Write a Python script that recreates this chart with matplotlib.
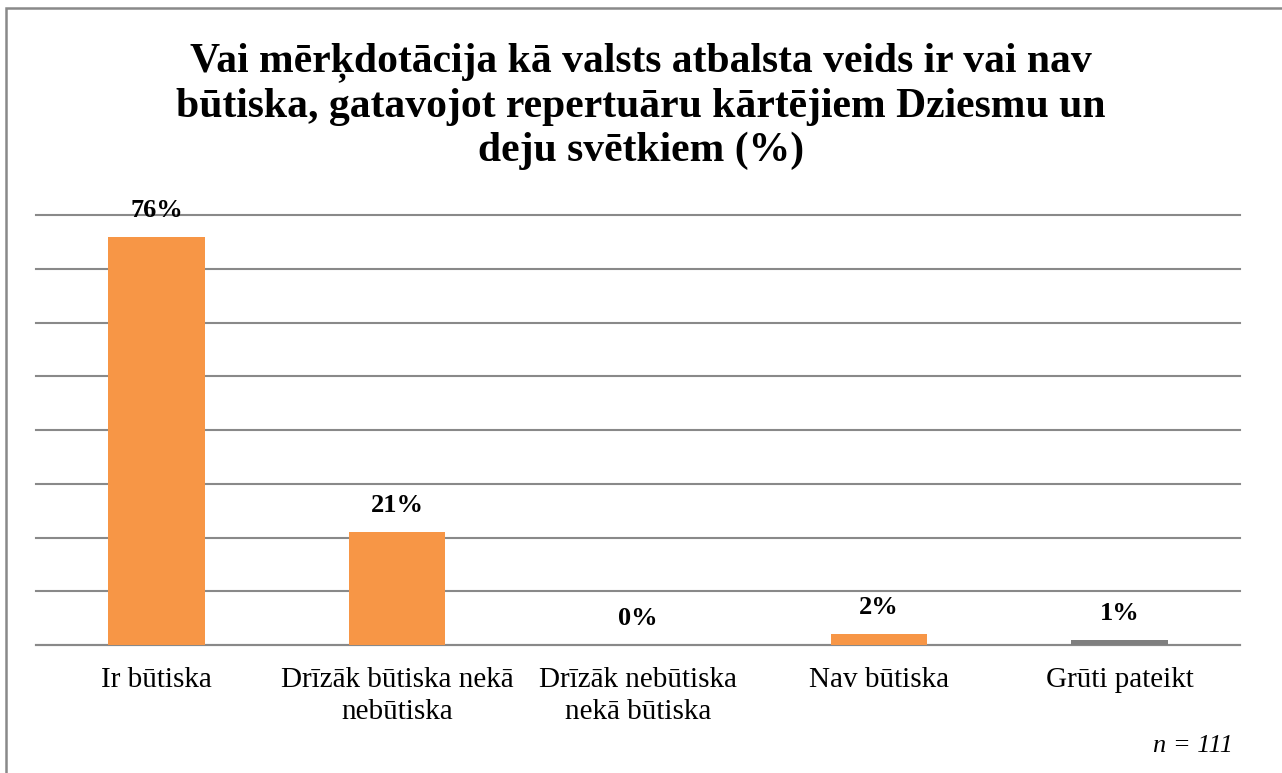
import numpy as np
import matplotlib.pyplot as plt
from matplotlib.patches import Rectangle

categories = ["Ir būtiska", "Drīzāk būtiska nekā\nnebūtiska", "Drīzāk nebūtiska\nnekā būtiska",
              "Nav būtiska", "Grūti pateikt"]
values = [76, 21, 0, 2, 1]
colors = ["#F79646", "#F79646", "#F79646", "#F79646", "#7F7F7F"]
title = "Vai mērķdotācija kā valsts atbalsta veids ir vai nav\nbūtiska, gatavojot repertuāru kārtējiem Dziesmu un\ndeju svētkiem (%)"

plt.rcParams['font.family'] = ['Liberation Serif', 'DejaVu Serif']

fig = plt.figure(figsize=(12.82, 7.73), dpi=100)
# frame: only left and top edges show, the rest is cropped off
fig.patches.append(Rectangle((6 / 1282, -0.05), 1.1, 1 - 8 / 773 + 0.05,
                             transform=fig.transFigure, fill=False,
                             edgecolor="#898989", linewidth=1.8))

ax = fig.add_axes([36 / 1282, 1 - 645 / 773, (1240 - 36) / 1282, (645 - 215) / 773])
x = np.arange(len(categories))
ax.bar(x, values, width=0.4, color=colors, zorder=3)
ax.set_xlim(-0.5, len(categories) - 0.5)
ax.set_ylim(0, 80)
ax.set_yticks(np.arange(0, 81, 10))
ax.yaxis.grid(True, color="#898989", linewidth=1.5, zorder=0)
for gl in ax.get_ygridlines():
    gl.set_clip_on(False)
ax.tick_params(axis='y', left=False, labelleft=False)
ax.tick_params(axis='x', length=0, pad=16, labelsize=21)
ax.set_xticks(x)
ax.set_xticklabels(categories, linespacing=1.28)
for s in ["top", "left", "right"]:
    ax.spines[s].set_visible(False)
ax.spines["bottom"].set_color("#898989")
ax.spines["bottom"].set_linewidth(1.5)

for xi, v in zip(x, values):
    ax.annotate(f"{v}%", (xi, v), xytext=(0, 19), textcoords="offset points",
                ha="center", va="center", fontsize=19, fontweight="bold")

fig.text(0.5, 1 - 106 / 773, title, ha="center", va="center", fontsize=30,
         fontweight="bold", linespacing=1.2)
fig.text(1233 / 1282, 1 - 746 / 773, "n = 111", ha="right", va="center",
         fontsize=19, style="italic")

fig.savefig("out.png", dpi=100)
